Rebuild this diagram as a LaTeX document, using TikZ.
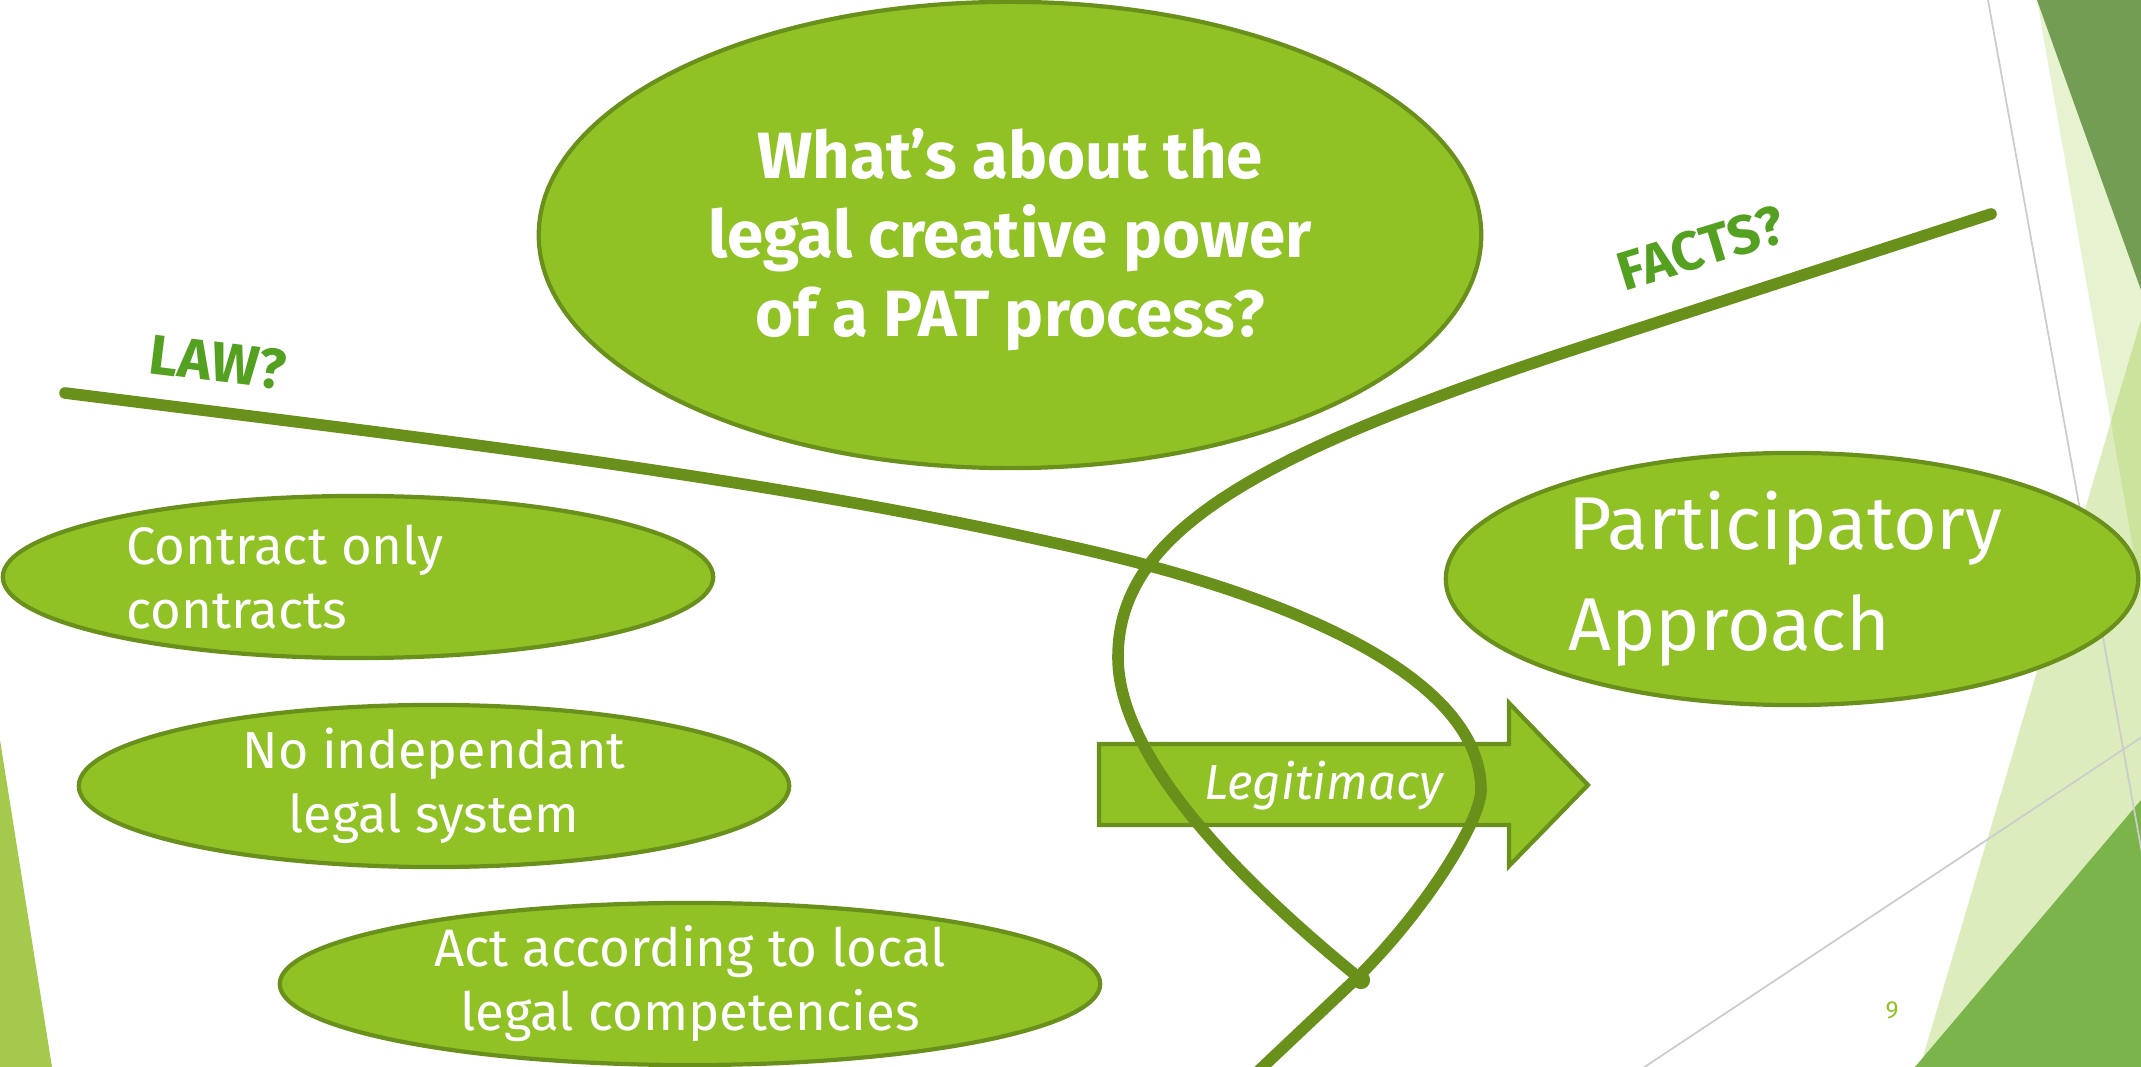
\documentclass[tikz,border=0pt]{standalone}
\usepackage{fontspec}
\setmainfont{Fira Sans}
\usetikzlibrary{positioning,shapes.geometric}
\definecolor{facetgreen}{HTML}{90C226}
\definecolor{pathgreen}{HTML}{6A901C}
\definecolor{taggreen}{HTML}{54A021}
\definecolor{deepgreen}{HTML}{729D52}
\definecolor{grassgreen}{HTML}{7AB44A}
\definecolor{stripgreen}{HTML}{A4C94C}
\definecolor{rulegray}{HTML}{CCCCCC}
\tikzset{%
bubble/.style={ellipse,draw=pathgreen,fill=facetgreen,line width=1.2pt,inner sep=0},
bubbletext/.style={text=white,inner sep=0,align=center,font=\fontsize{15}{18.2}\selectfont},
arrowbox/.style={draw=pathgreen,fill=facetgreen,line width=1.2pt,line join=miter},
track/.style={draw=pathgreen,line width=3.3pt,line cap=round},
tag/.style={text=taggreen,inner sep=0,font=\fontsize{16}{19}\selectfont\bfseries},
facet/.style={fill=facetgreen,opacity=#1},
hairline/.style={draw=rulegray,line width=0.5pt}
}

\begin{document}
\begin{tikzpicture}[x=0.01cm,y=-0.01cm]
    \useasboundingbox (0,0) rectangle (2141,1067);
    \clip (0,0) rectangle (2141,1067);
    \fill[white] (0,0) rectangle (2141,1067);

    % theme triangles
    \fill[stripgreen] (0,740) -- (52,1067) -- (0,1067) -- cycle;
    \fill[facet=0.21] (2037,0) -- (2141,0) -- (2141,594) -- cycle;
    \fill[facet=0.3] (2141,320) -- (2141,1067) -- (1920,1067) -- cycle;
    \fill[deepgreen] (2037,0) -- (2141,0) -- (2141,290) -- cycle;
    \fill[grassgreen] (2141,800) -- (2141,1067) -- (1915,1067) -- cycle;
    \draw[hairline] (1988,0) -- (2145,870);
    \draw[hairline] (2145,735) -- (1640,1070);

    \node[bubble,minimum width=9.42cm,minimum height=4.66cm] (quest) at (1010,235) {};
    \node[bubbletext,font=\fontsize{18.6}{22.5}\selectfont\bfseries] (questtext) at (1010,240)
        {What’s about the\\legal creative power\\of a PAT process?};

    \node[bubble,minimum width=7.10cm,minimum height=1.62cm] (cont) at (358,577) {};
    \node[bubbletext,align=left,right=1.25cm of cont.west] (conttext) {Contract only\\contracts};

    \node[bubble,minimum width=7.10cm,minimum height=1.62cm] (indep) at (434,786) {};
    \node[bubbletext,font=\fontsize{14.8}{18.2}\selectfont] (indeptext) at (indep) {No independant\\legal system};

    \node[bubble,minimum width=8.20cm,minimum height=1.62cm] (local) at (690,984) {};
    \node[bubbletext] (localtext) at (local) {Act according to local\\legal competencies};

    \node[bubble,minimum width=6.92cm,minimum height=2.52cm] (part) at (1792,579) {};
    \node[bubbletext,align=left,right=1.24cm of part.west,font=\fontsize{21.3}{28.7}\selectfont] (parttext)
        {Participatory\\Approach};

    % legitimacy arrow
    \draw[arrowbox] (1099,744) -- (1509,744) -- (1509,703) -- (1588,785)
        -- (1509,866) -- (1509,825) -- (1099,825) -- cycle;

    % law and facts
    \coordinate (knot) at (1358,977);
    \draw[track] (65,393) .. controls (400,435) and (750,475) .. (1050,542)
        .. controls (1300,595) and (1481,680) .. (1481,790)
        .. controls (1481,820) and (1428,907) .. (knot) -- (1250,1079);
    \draw[track] (1991,214) -- (1600,341) .. controls (1260,451) and (1118,530) .. (1118,657)
        .. controls (1118,740) and (1200,848) .. (knot);
    \fill[pathgreen] (1361,980) circle (2.6pt);

    \node[bubbletext,font=\fontsize{14}{17}\selectfont\itshape] (legit) at (1324,786) {Legitimacy};
    \node[tag,rotate=-7] (lawtag) at (218,362) {LAW?};
    \node[tag,rotate=17,font=\fontsize{15.5}{18}\selectfont\bfseries] (factstag) at (1701,248) {FACTS?};
    \node[text=facetgreen,font=\fontsize{7}{8}\selectfont] (pagenum) at (1892,1010) {9};
\end{tikzpicture}
\end{document}
